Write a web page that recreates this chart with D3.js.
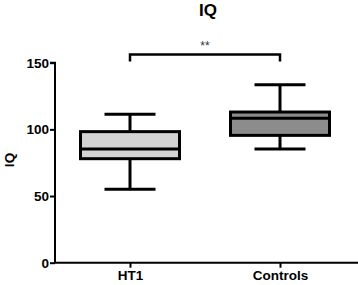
<!DOCTYPE html>
<html>
<head>
<meta charset="utf-8">
<script src="https://cdn.jsdelivr.net/npm/d3@7"></script>
<style>
  body { margin: 0; background: #fff; }
  text { font-family: "Liberation Sans", Arial, sans-serif; }
</style>
</head>
<body>
<div id="chart"></div>
<script>
// box plot data
let groups = ["HT1", "Controls"]
let whiskerLow = [55, 85.3]
let q1 = [78, 95.5]
let median = [85.3, 108.3]
let q3 = [98.3, 113]
let whiskerHigh = [111.3, 133.5]
let fills = ["#d3d3d3", "#8c8c8c"]
let yTicks = [0, 50, 100, 150]

let width = 358, height = 285

let svg = d3.select("#chart").append("svg")
    .attr("width", width)
    .attr("height", height)

// x: two bands, y: linear 0-150
let x = d3.scalePoint()
    .domain(groups)
    .range([130, 280])

let y = d3.scaleLinear()
    .domain([0, 150])
    .range([262.7, 62.7])

// axes
let yAxis = d3.axisLeft(y).tickValues(yTicks).tickSize(5).tickPadding(1)
let gy = svg.append("g")
    .attr("transform", "translate(55,0)")
    .call(yAxis)
gy.select(".domain").attr("d", "M-5," + y(150) + "H0V" + y(0))

let gx = svg.append("g")
    .attr("transform", "translate(0," + y(0) + ")")
    .call(d3.axisBottom(x).tickSize(5).tickPadding(3))
gx.select(".domain").attr("d", "M55,0H358")

svg.selectAll(".domain, .tick line")
    .attr("stroke", "#000")
    .attr("stroke-width", 2)
svg.selectAll(".tick text")
    .attr("font-size", 13.5)
    .attr("font-weight", "bold")
    .attr("fill", "#000")

// boxes
let boxW = 99, capW = 51
let data = groups.map((g, i) => ({
    g: g, lo: whiskerLow[i], q1: q1[i], med: median[i], q3: q3[i], hi: whiskerHigh[i], fill: fills[i]
}))

let box = svg.selectAll(".box")
    .data(data)
    .enter().append("g")
    .attr("class", "box")

box.append("line")
    .attr("x1", d => x(d.g)).attr("x2", d => x(d.g))
    .attr("y1", d => y(d.hi)).attr("y2", d => y(d.lo))
    .attr("stroke", "#000").attr("stroke-width", 3)

box.append("line")
    .attr("x1", d => x(d.g) - capW / 2).attr("x2", d => x(d.g) + capW / 2)
    .attr("y1", d => y(d.hi)).attr("y2", d => y(d.hi))
    .attr("stroke", "#000").attr("stroke-width", 3)

box.append("line")
    .attr("x1", d => x(d.g) - capW / 2).attr("x2", d => x(d.g) + capW / 2)
    .attr("y1", d => y(d.lo)).attr("y2", d => y(d.lo))
    .attr("stroke", "#000").attr("stroke-width", 3)

box.append("rect")
    .attr("x", d => x(d.g) - boxW / 2)
    .attr("width", boxW)
    .attr("y", d => y(d.q3))
    .attr("height", d => y(d.q1) - y(d.q3))
    .attr("fill", d => d.fill)
    .attr("stroke", "#000").attr("stroke-width", 3)

box.append("line")
    .attr("x1", d => x(d.g) - boxW / 2).attr("x2", d => x(d.g) + boxW / 2)
    .attr("y1", d => y(d.med)).attr("y2", d => y(d.med))
    .attr("stroke", "#000").attr("stroke-width", 3)

// significance bracket
let brY = 54.5
svg.append("path")
    .attr("d", "M" + x("HT1") + "," + (brY + 7) + "V" + brY + "H" + x("Controls") + "V" + (brY + 7))
    .attr("fill", "none")
    .attr("stroke", "#000")
    .attr("stroke-width", 2.5)

svg.append("text")
    .attr("x", (x("HT1") + x("Controls")) / 2)
    .attr("y", 50)
    .attr("text-anchor", "middle")
    .attr("font-size", 12)
    .attr("fill", "#333")
    .text("**")

// title
svg.append("text")
    .attr("x", 208)
    .attr("y", 16)
    .attr("text-anchor", "middle")
    .attr("font-size", 17)
    .attr("font-weight", "bold")
    .text("IQ")

// y axis label
svg.append("text")
    .attr("transform", "translate(14,160) rotate(-90)")
    .attr("text-anchor", "middle")
    .attr("font-size", 13.5)
    .attr("font-weight", "bold")
    .text("IQ")
</script>
</body>
</html>
